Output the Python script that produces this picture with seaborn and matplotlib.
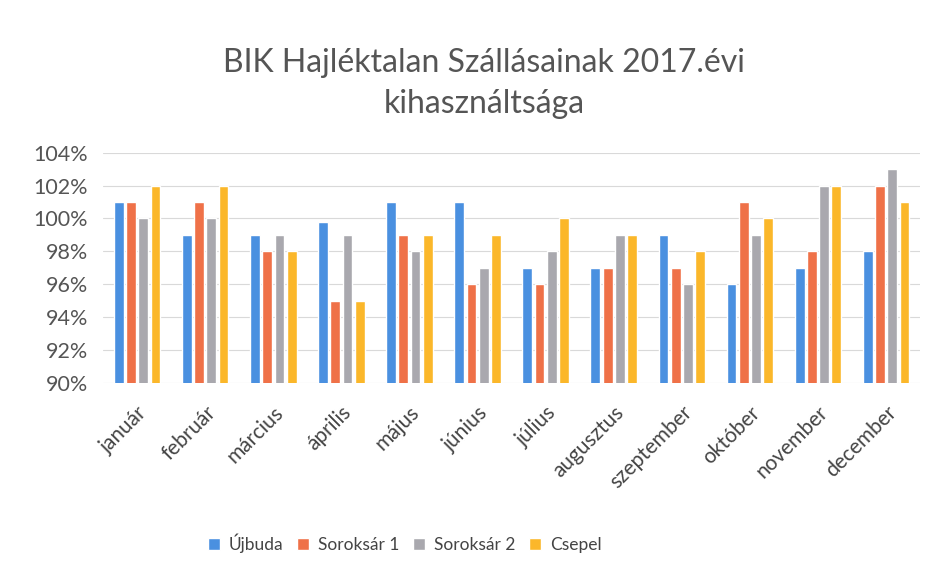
import numpy as np
import pandas as pd
import seaborn as sns
from matplotlib import pyplot as plt
from matplotlib.ticker import FuncFormatter

months = ['január', 'február', 'március', 'április', 'május', 'június',
          'július', 'augusztus', 'szeptember', 'október', 'november', 'december']
series = ['Újbuda', 'Soroksár 1', 'Soroksár 2', 'Csepel']

ujbuda = [101, 99, 99, 99.8, 101, 101, 97, 97, 99, 96, 97, 98]
soroksar1 = [101, 101, 98, 95, 99, 96, 96, 97, 97, 101, 98, 102]
soroksar2 = [100, 100, 99, 99, 98, 97, 98, 99, 96, 99, 102, 103]
csepel = [102, 102, 98, 95, 99, 99, 100, 99, 98, 100, 102, 101]

colors = ['#4a90e0', '#ef7148', '#a9a8ae', '#fbb72a']

df = pd.DataFrame({
    'month': months * 4,
    'site': np.repeat(series, len(months)),
    'value': ujbuda + soroksar1 + soroksar2 + csepel,
})

sns.set_style('white')
plt.rcParams['font.family'] = ['Lato', 'DejaVu Sans']

fig = plt.figure(figsize=(9.37, 5.76), dpi=100)
ax = fig.add_axes([0.11, 0.335, 0.872, 0.40])

sns.barplot(data=df, x='month', y='value', hue='site', palette=colors,
            saturation=1, width=0.72, gap=0.2, ax=ax, legend=True)

ax.set_ylim(90, 104)
ax.set_yticks(np.arange(90, 105, 2))
ax.yaxis.set_major_formatter(FuncFormatter(lambda v, _: f'{v:.0f}%'))
ax.grid(axis='y', color='#d9d9d9', lw=0.8)
ax.set_axisbelow(True)
for s in ax.spines.values():
    s.set_visible(False)
ax.set_xlabel('')
ax.set_ylabel('')
ax.tick_params(axis='y', labelsize=15.5, labelcolor='#555555', length=0, pad=11)
ax.tick_params(axis='x', labelsize=15, labelcolor='#444444', length=0, pad=14)
plt.setp(ax.get_xticklabels(), rotation=45, ha='right', rotation_mode='anchor')

handles, labels = ax.get_legend_handles_labels()
ax.get_legend().remove()
fig.legend(handles, labels, loc='center', bbox_to_anchor=(0.432, 0.057), ncol=4,
           frameon=False, fontsize=12.5, handlelength=0.7, handleheight=0.7,
           columnspacing=0.8, handletextpad=0.5, labelcolor='#444444')

fig.text(0.517, 0.89, 'BIK Hajléktalan Szállásainak 2017.évi', ha='center',
         va='center', fontsize=23, color='#555555')
fig.text(0.517, 0.82, 'kihasználtsága', ha='center', va='center',
         fontsize=23, color='#555555')

fig.savefig('out.png', dpi=100)
